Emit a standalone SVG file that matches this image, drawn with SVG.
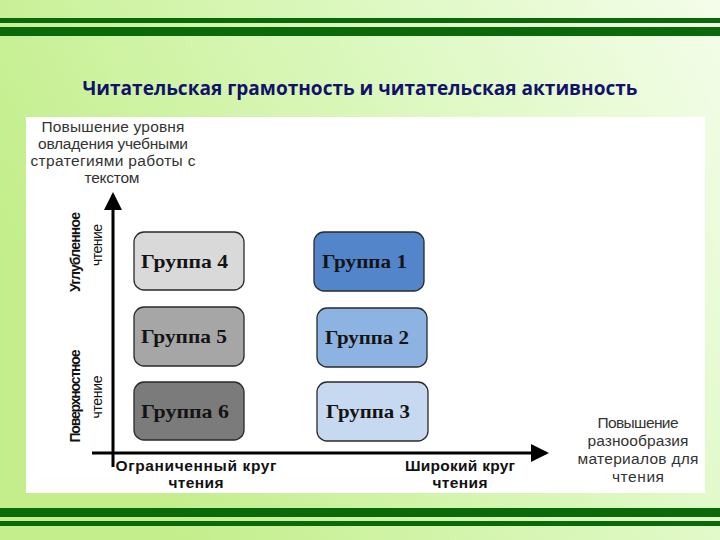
<svg xmlns="http://www.w3.org/2000/svg" width="720" height="540" viewBox="0 0 720 540">
<defs>
<linearGradient id="bg" x1="0" y1="0.4" x2="1" y2="0">
<stop offset="0" stop-color="#c3ee8b"/>
<stop offset="0.55" stop-color="#dcf8bf"/>
<stop offset="1" stop-color="#f4fdea"/>
</linearGradient>
<marker id="arr" markerWidth="6" markerHeight="6" refX="5" refY="3" orient="auto" markerUnits="strokeWidth">
<path d="M0,0 L6,3 L0,6 Z" fill="#000"/>
</marker>
<style>
.bar{fill:#0a6a0a}
.box{stroke:#2a2a2a;stroke-width:1.3}
.gl{font-family:"Liberation Serif","Times New Roman",serif;font-weight:bold;font-size:19px;fill:#141414}
.lbl{font-family:"Liberation Sans",Arial,sans-serif;font-size:15.5px;fill:#333;text-anchor:middle}
.blbl{font-family:"Liberation Sans",Arial,sans-serif;font-size:15.5px;font-weight:bold;fill:#111;text-anchor:middle}
.vlbl{font-family:"Liberation Sans",Arial,sans-serif;font-size:14px;fill:#111;text-anchor:middle}
.axis{stroke:#000;stroke-width:3;fill:none}
</style>
</defs>
<rect x="0" y="0" width="720" height="540" fill="url(#bg)"/>
<rect class="bar" x="0" y="18" width="720" height="5"/>
<rect class="bar" x="0" y="27" width="720" height="9"/>
<rect class="bar" x="0" y="508" width="720" height="9"/>
<rect class="bar" x="0" y="521" width="720" height="5"/>
<text x="360" y="95" text-anchor="middle" font-family="'Open Sans','Noto Sans',sans-serif" font-weight="bold" font-size="19" fill="#12126b" textLength="555" lengthAdjust="spacingAndGlyphs">Читательская грамотность и читательская активность</text>
<rect x="26" y="117" width="679" height="376" fill="#ffffff"/>

<g id="label-top">
<text class="lbl" x="113" y="132" textLength="143">Повышение уровня</text>
<text class="lbl" x="113" y="149" textLength="150">овладения учебными</text>
<text class="lbl" x="113" y="166" textLength="165">стратегиями работы с</text>
<text class="lbl" x="112" y="183" textLength="55">текстом</text>
</g>
<g id="label-right">
<text class="lbl" x="638" y="428" textLength="81">Повышение</text>
<text class="lbl" x="638" y="446" textLength="101">разнообразия</text>
<text class="lbl" x="638" y="464" textLength="121">материалов для</text>
<text class="lbl" x="638" y="482" textLength="52">чтения</text>
</g>
<g id="label-deep">
<text class="vlbl" font-weight="bold" transform="translate(80,252) rotate(-90)" textLength="80">Углубленное</text>
<text class="vlbl" transform="translate(102,245) rotate(-90)" textLength="42">чтение</text>
</g>
<g id="label-surface">
<text class="vlbl" font-weight="bold" transform="translate(80,396) rotate(-90)" textLength="93">Поверхностное</text>
<text class="vlbl" transform="translate(102,397) rotate(-90)" textLength="43">чтение</text>
</g>
<g id="label-limited">
<text class="blbl" x="196" y="471" textLength="161">Ограниченный круг</text>
<text class="blbl" x="196" y="488" textLength="55">чтения</text>
</g>
<g id="label-wide">
<text class="blbl" x="460" y="471" textLength="110">Широкий круг</text>
<text class="blbl" x="460" y="488" textLength="55">чтения</text>
</g>

<g id="connectors">
<line class="axis" x1="113" y1="467" x2="113" y2="195" marker-end="url(#arr)"/>
<line class="axis" x1="92" y1="453" x2="546" y2="453" marker-end="url(#arr)"/>
</g>

<g id="group4">
<rect class="box" x="134" y="232" width="110" height="58" rx="10" fill="#d9d9d9"/>
<text class="gl" x="141" y="268" textLength="87" lengthAdjust="spacingAndGlyphs">Группа 4</text>
</g>
<g id="group5">
<rect class="box" x="134" y="307" width="110" height="59" rx="10" fill="#a6a6a6"/>
<text class="gl" x="141" y="343" textLength="86" lengthAdjust="spacingAndGlyphs">Группа 5</text>
</g>
<g id="group6">
<rect class="box" x="134" y="382" width="110" height="58" rx="10" fill="#7b7b7b"/>
<text class="gl" x="141" y="418" textLength="88" lengthAdjust="spacingAndGlyphs">Группа 6</text>
</g>
<g id="group1">
<rect class="box" x="314" y="232" width="110" height="59" rx="10" fill="#5385cb"/>
<text class="gl" x="322" y="268" textLength="85" lengthAdjust="spacingAndGlyphs">Группа 1</text>
</g>
<g id="group2">
<rect class="box" x="317" y="308" width="110" height="59" rx="10" fill="#8db3e2"/>
<text class="gl" x="325" y="344" textLength="84" lengthAdjust="spacingAndGlyphs">Группа 2</text>
</g>
<g id="group3">
<rect class="box" x="317" y="382" width="111" height="59" rx="10" fill="#c6d9f1"/>
<text class="gl" x="326" y="418" textLength="84" lengthAdjust="spacingAndGlyphs">Группа 3</text>
</g>
</svg>
